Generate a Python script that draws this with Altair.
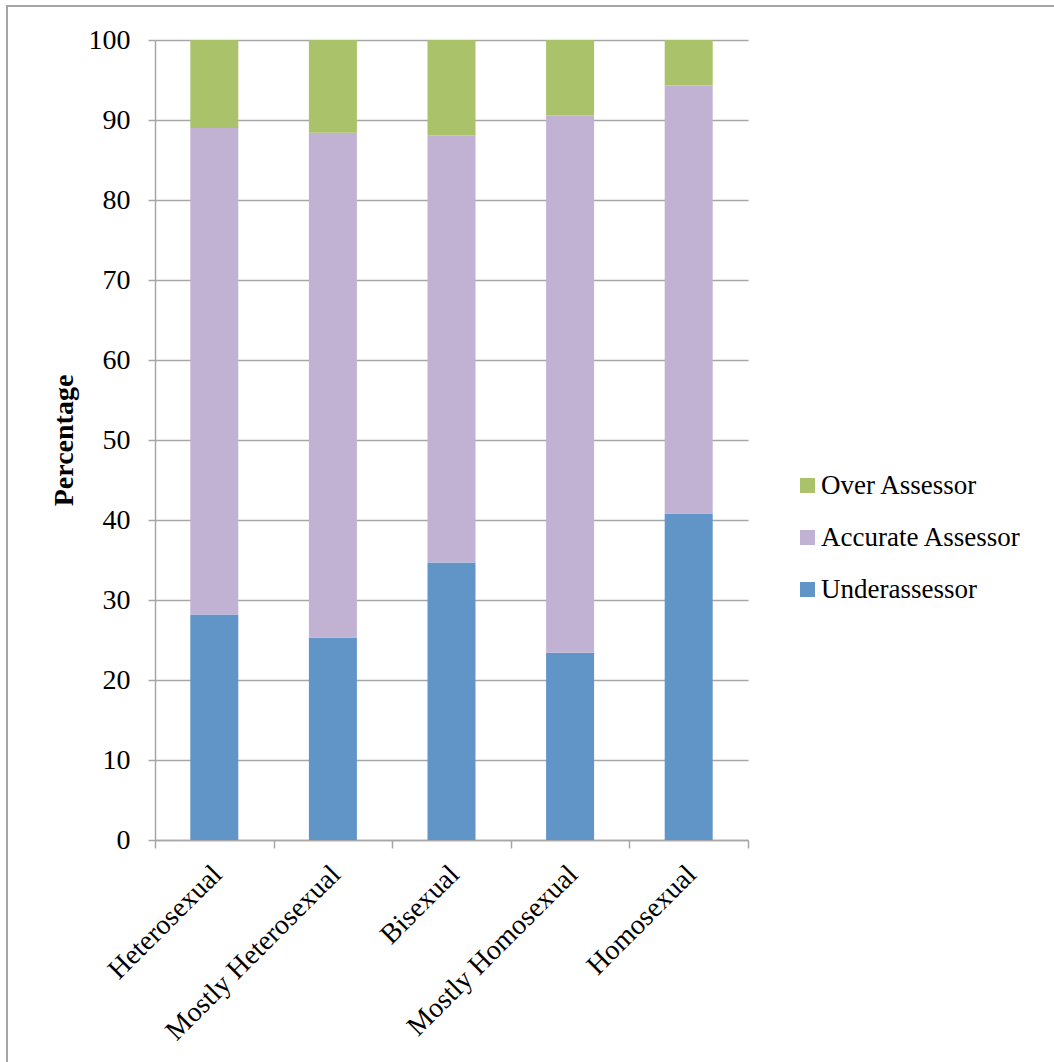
import altair as alt
import pandas as pd

# Share of each assessor type per self-identified orientation (percent)
groups = ["Heterosexual", "Mostly Heterosexual", "Bisexual", "Mostly Homosexual", "Homosexual"]
under = [28.2, 25.3, 34.7, 23.4, 40.8]
accurate = [60.8, 63.1, 53.4, 67.2, 53.5]
over = [11.0, 11.6, 11.9, 9.4, 5.7]

series = ["Over Assessor", "Accurate Assessor", "Underassessor"]
colors = ["#AAC36B", "#C1B2D3", "#6195C8"]
y_ticks = list(range(0, 101, 10))

stack_rank = {"Underassessor": 0, "Accurate Assessor": 1, "Over Assessor": 2}
rows = []
for i, g in enumerate(groups):
    for name, vals in (("Underassessor", under), ("Accurate Assessor", accurate), ("Over Assessor", over)):
        rows.append({"group": g, "series": name, "value": vals[i], "rank": stack_rank[name]})
df = pd.DataFrame(rows)

GRID = "#A6A6A6"
FONT = "Liberation Serif"

bars = alt.Chart(df).mark_bar(size=48).encode(
    x=alt.X(
        "group:N",
        sort=groups,
        scale=alt.Scale(paddingInner=0, paddingOuter=0),
        axis=alt.Axis(
            title=None,
            labelAngle=315,
            labelAlign="right",
            labelBaseline="middle",
            labelFont=FONT,
            labelFontSize=28,
            labelColor="black",
            labelPadding=22,
            labelOffset=3,
            labelLimit=0,
            tickBand="extent",
            tickSize=8,
            tickColor=GRID,
            tickWidth=1.5,
            domainColor=GRID,
            domainWidth=1.5,
            grid=False,
        ),
    ),
    y=alt.Y(
        "value:Q",
        stack="zero",
        scale=alt.Scale(domain=[0, 100], nice=False),
        axis=alt.Axis(
            title="Percentage",
            titleFont=FONT,
            titleFontSize=28,
            titleFontWeight="bold",
            titleColor="black",
            titlePadding=10,
            values=y_ticks,
            labelFont=FONT,
            labelFontSize=28,
            labelColor="black",
            labelPadding=18,
            tickSize=7,
            tickColor=GRID,
            tickWidth=1.5,
            domainColor=GRID,
            domainWidth=1.5,
            grid=True,
            gridColor=GRID,
            gridWidth=1.5,
        ),
    ),
    color=alt.Color(
        "series:N",
        scale=alt.Scale(domain=series, range=colors),
        legend=alt.Legend(
            title=None,
            orient="none",
            legendX=639,
            legendY=432,
            symbolType="square",
            symbolSize=225,
            symbolStrokeWidth=0,
            symbolOpacity=1,
            labelFont=FONT,
            labelFontSize=27,
            labelColor="black",
            labelOffset=0,
            labelLimit=0,
            rowPadding=24,
        ),
    ),
    order=alt.Order("rank:Q", sort="ascending"),
)

# Thin frame around the whole figure
frame = alt.Chart(pd.DataFrame({"k": [0]})).mark_rect(
    fillOpacity=0, stroke=GRID, strokeWidth=2
).encode(
    x=alt.value(-148), x2=alt.value(920), y=alt.value(-34), y2=alt.value(1050)
)

chart = alt.layer(bars, frame).properties(
    width=593,
    height=800,
    autosize=alt.AutoSizeParams(type="none"),
    padding={"left": 155, "top": 40, "right": 306, "bottom": 222},
    background="white",
).configure_view(strokeWidth=0)

chart.save("out.html", embed_options={"renderer": "svg", "actions": False})
